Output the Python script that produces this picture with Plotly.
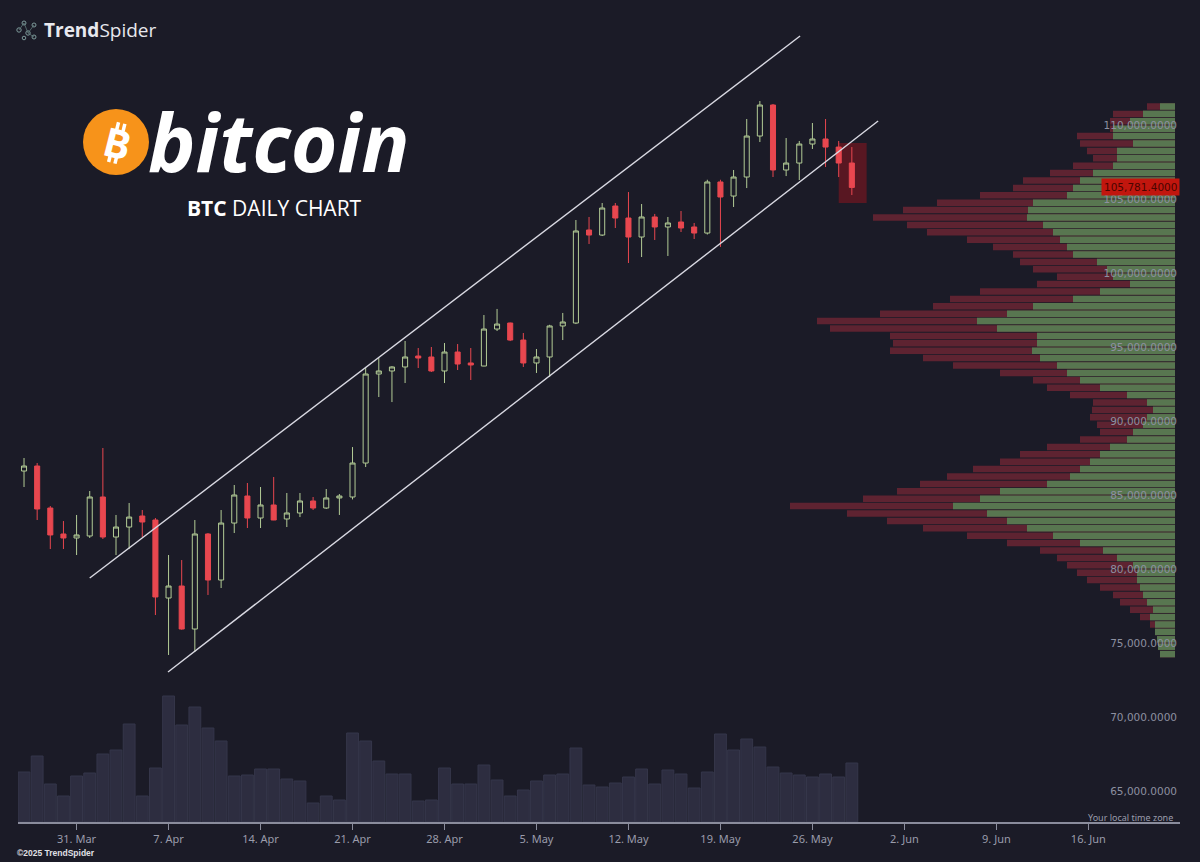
import plotly.graph_objects as go
import pandas as pd
import math

# ---------------- data ----------------
start_date = "2025-03-27"
n_days = 64
dates = pd.date_range(start_date, periods=n_days, freq="D")

opens = [86620, 86958, 84120, 82365, 82095, 82230, 84865, 82160, 82835, 83580,
         83310, 78040, 78850, 75945, 82365, 79255, 83105, 84930, 83445, 84325,
         83380, 83785, 84595, 84120, 84800, 84865, 87160, 93175, 93380, 93650,
         94390, 94325, 93380, 94660, 93920, 93715, 96215, 96620, 95470, 93920,
         94325, 96420, 96620, 102905, 102565, 104525, 103715, 102430, 103785, 103110,
         103445, 103110, 102700, 106150, 105200, 106485, 109255, 111350, 106960, 107430,
         108715, 109055, 108510, 107430]
highs = [87500, 87160, 84255, 83240, 83650, 85270, 88175, 83650, 84460, 83985,
         83445, 80945, 80605, 83310, 82430, 83985, 85675, 85810, 85540, 86215,
         85135, 85135, 84865, 85405, 85065, 88240, 93650, 94255, 93700, 95405,
         94930, 95000, 95270, 95200, 94930, 97160, 97570, 96650, 95945, 94865,
         96500, 97300, 103580, 103785, 104730, 104730, 105470, 104660, 103990, 103785,
         104190, 103380, 106300, 106300, 106960, 110405, 111620, 111420, 109120, 108920,
         110135, 110405, 108920, 108510]
lows = [85540, 83310, 81350, 81350, 80945, 82095, 82025, 80945, 81350, 82160,
        76890, 74190, 75900, 74390, 78245, 78715, 82430, 82770, 82770, 83300,
        82835, 83510, 83985, 84055, 83650, 84700, 86890, 91620, 91280, 92565,
        93580, 93310, 92565, 93445, 92770, 93700, 96080, 95400, 93650, 93245,
        92970, 95470, 96550, 101960, 102500, 103040, 100675, 101080, 102230, 101150,
        102770, 102295, 102600, 101760, 104460, 105740, 108850, 106485, 106550, 106280,
        108380, 107160, 106485, 105270]
closes = [86958, 84053, 82300, 82095, 82300, 84865, 82160, 82835, 83510, 83175,
          78110, 78850, 75945, 82365, 79255, 83105, 85000, 83445, 84325, 83310,
          83785, 84595, 84120, 84800, 84930, 87160, 93175, 93380, 93650, 94325,
          94255, 93380, 94660, 93850, 93785, 96215, 96550, 95470, 93920, 94325,
          96420, 96690, 102840, 102565, 104390, 103715, 102430, 103785, 103110, 103380,
          103040, 102700, 106150, 105135, 106485, 109255, 111350, 106960, 107430, 108715,
          109055, 108510, 107430, 105781.4]

volume_k = [50, 66, 38, 26, 46, 49, 68, 72, 98, 26,
            54, 126, 97, 115, 94, 81, 46, 47, 53, 53,
            43, 41, 19, 26, 22, 89, 81, 61, 48, 48,
            21, 22, 54, 38, 38, 57, 42, 26, 32, 41,
            47, 48, 74, 37, 35, 39, 45, 53, 38, 52,
            48, 34, 50, 88, 72, 83, 75, 55, 49, 47,
            45, 48, 45, 59]

# volume profile (bins of 500 from 74,000 to 111,500) : total and up volume
vp_levels = list(range(74250, 111500, 500))
vp_total = [15, 17, 18, 20, 25, 35, 45, 55, 62, 75,
            88, 98, 108, 118, 135, 168, 208, 252, 288, 328,
            385, 312, 278, 255, 228, 202, 175, 155, 128, 95,
            75, 78, 85, 83, 82, 105, 128, 142, 175, 222,
            252, 285, 282, 285, 345, 358, 295, 242, 225, 195,
            138, 118, 142, 155, 162, 182, 208, 248, 268, 302,
            272, 238, 195, 162, 152, 125, 102, 82, 88, 95,
            98, 65, 65, 62, 28]
vp_up = [15, 17, 18, 20, 20, 25, 22, 28, 32, 35,
         38, 38, 42, 58, 72, 95, 122, 148, 168, 188,
         222, 195, 175, 128, 105, 95, 85, 75, 65, 48,
         42, 32, 28, 22, 28, 48, 75, 95, 108, 118,
         135, 143, 138, 138, 178, 198, 168, 142, 102, 75,
         45, 62, 68, 78, 102, 108, 115, 122, 132, 148,
         147, 142, 108, 102, 95, 82, 62, 58, 58, 42,
         62, 62, 45, 32, 15]

channel_upper_x = ["2025-04-01 00:00", "2025-05-25 01:30"]
channel_upper_y = [79390, 116014]
channel_lower_x = ["2025-04-06 23:00", "2025-05-31 00:00"]
channel_lower_y = [73039, 110270]

highlight_x = ["2025-05-28 00:00", "2025-05-30 03:00"]
highlight_y = [104730, 108784]

price_ticks = [65000, 70000, 75000, 80000, 85000, 90000, 95000, 100000, 105000, 110000]
date_ticks = ["2025-03-31", "2025-04-07", "2025-04-14", "2025-04-21", "2025-04-28",
              "2025-05-05", "2025-05-12", "2025-05-19", "2025-05-26", "2025-06-02",
              "2025-06-09", "2025-06-16"]
date_tick_labels = ["31. Mar", "7. Apr", "14. Apr", "21. Apr", "28. Apr", "5. May",
                    "12. May", "19. May", "26. May", "2. Jun", "9. Jun", "16. Jun"]

last_price = closes[-1]

# ---------------- style ----------------
W, H = 1200, 862
ML, MR, MT, MB = 18, 20, 0, 40
PW, PH = W - ML - MR, H - MT - MB
BG = "#1b1b27"
UP = "#b3cc96"
DN = "#e8474f"
VOLC = "#2d2d40"
GRN = "#587650"
RED = "#5e2331"
AXC = "#8a8c9c"


def px(x):
    return (x - ML) / PW


def py(y):
    return 1 - (y - MT) / PH


fig = go.Figure()

fig.add_trace(go.Bar(
    x=dates, y=volume_k, yaxis="y2", xaxis="x",
    width=0.9 * 86400000,
    marker=dict(color=VOLC, line=dict(color="#35364a", width=1)),
    hoverinfo="skip", showlegend=False))

fig.add_trace(go.Bar(
    y=vp_levels, x=vp_total, orientation="h", xaxis="x3", yaxis="y",
    width=440, marker=dict(color=RED, line=dict(width=0)),
    hoverinfo="skip", showlegend=False))
fig.add_trace(go.Bar(
    y=vp_levels, x=vp_up, orientation="h", xaxis="x3", yaxis="y",
    width=440, marker=dict(color=GRN, line=dict(width=0)),
    hoverinfo="skip", showlegend=False))

fig.add_trace(go.Candlestick(
    x=dates, open=opens, high=highs, low=lows, close=closes,
    increasing=dict(line=dict(color=UP, width=1), fillcolor=BG),
    decreasing=dict(line=dict(color=DN, width=1), fillcolor=DN),
    whiskerwidth=0, showlegend=False))

for cx, cy in ((channel_upper_x, channel_upper_y), (channel_lower_x, channel_lower_y)):
    fig.add_trace(go.Scatter(x=cx, y=cy, mode="lines",
                             line=dict(color="#d9d9e2", width=1.4),
                             hoverinfo="skip", showlegend=False))

fig.add_shape(type="rect", xref="x", yref="y",
              x0=highlight_x[0], x1=highlight_x[1], y0=highlight_y[0], y1=highlight_y[1],
              fillcolor="rgba(150,20,30,0.5)", line=dict(width=0), layer="below")

# bitcoin logo
CX, CY = 116, 142
fig.add_shape(type="circle", xref="paper", yref="paper",
              x0=px(CX - 33), x1=px(CX + 33), y0=py(CY + 33), y1=py(CY - 33),
              fillcolor="#f7931a", line=dict(width=0))
fig.add_annotation(xref="paper", yref="paper", x=px(CX + 1), y=py(CY + 1),
                   xanchor="center", yanchor="middle",
                   text="<b>B</b>", showarrow=False, textangle=14,
                   font=dict(family="Open Sans", size=40, color="white"))
ang = math.radians(14)
for dx in (-3.5, 3.0):
    for (d0, d1) in ((-20.5, -13), (13, 20.5)):
        pts = []
        for dy in (d0, d1):
            rx = dx * math.cos(ang) - dy * math.sin(ang)
            ry = dx * math.sin(ang) + dy * math.cos(ang)
            pts.append((CX + 1 + rx, CY + 1 + ry))
        fig.add_shape(type="line", xref="paper", yref="paper",
                      x0=px(pts[0][0]), y0=py(pts[0][1]), x1=px(pts[1][0]), y1=py(pts[1][1]),
                      line=dict(color="white", width=3.5))
fig.add_annotation(xref="paper", yref="paper", x=px(146), y=py(140),
                   xanchor="left", yanchor="middle",
                   text="<b><i>bitcoin</i></b>", showarrow=False,
                   font=dict(family="Open Sans", size=80, color="white"))
fig.add_annotation(xref="paper", yref="paper", x=px(274), y=py(208),
                   xanchor="center", yanchor="middle",
                   text="<b>BTC</b> DAILY CHART", showarrow=False,
                   font=dict(family="Open Sans", size=21, color="white"))

# TrendSpider header
fig.add_annotation(xref="paper", yref="paper", x=px(42), y=py(30),
                   xanchor="left", yanchor="middle",
                   text="<b>Trend</b>Spider", showarrow=False,
                   font=dict(family="Open Sans", size=19, color="#e8e8ee"))
for (cx, cy, r) in ((19, 30, 2.2), (24, 23, 2.0), (28, 33, 2.2), (34, 25, 2.0), (24, 38, 1.8), (34, 37, 2.0)):
    fig.add_shape(type="circle", xref="paper", yref="paper",
                  x0=px(cx - r), x1=px(cx + r), y0=py(cy + r), y1=py(cy - r),
                  line=dict(color="#7d9a9a", width=1), fillcolor="rgba(0,0,0,0)")
for (a, b) in (((19, 30), (24, 23)), ((24, 23), (28, 33)), ((28, 33), (34, 25)), ((28, 33), (34, 37))):
    fig.add_shape(type="line", xref="paper", yref="paper",
                  x0=px(a[0]), y0=py(a[1]), x1=px(b[0]), y1=py(b[1]),
                  line=dict(color="#5f7a7a", width=0.8))

# last price label
fig.add_annotation(xref="paper", yref="y", x=1.0, y=last_price,
                   xanchor="right", yanchor="middle",
                   text=f"{last_price:,.4f}", showarrow=False,
                   bgcolor="#c2160e", borderpad=2,
                   font=dict(family="DejaVu Sans", size=10.5, color="#4a0500"))

fig.add_annotation(xref="paper", yref="paper", x=px(1175), y=py(817),
                   xanchor="right", yanchor="middle",
                   text="Your local time zone", showarrow=False,
                   font=dict(family="Noto Sans", size=9, color="#9a9cab"))
fig.add_annotation(xref="paper", yref="paper", x=px(15), y=py(853),
                   xanchor="left", yanchor="middle",
                   text="<b>©2025 TrendSpider</b>", showarrow=False,
                   font=dict(family="Liberation Sans", size=8.5, color="#e0e0e6"))

x_start = pd.Timestamp(start_date) - pd.Timedelta(hours=11)
x_end = x_start + pd.Timedelta(days=PW / 13.14)

fig.update_layout(
    width=W, height=H,
    margin=dict(l=ML, r=MR, t=MT, b=MB),
    paper_bgcolor=BG, plot_bgcolor=BG,
    barmode="overlay", boxgap=0.45,
    showlegend=False,
    xaxis=dict(type="date", range=[x_start, x_end], showgrid=False, zeroline=False,
               showline=True, linecolor=AXC, linewidth=2,
               ticks="outside", ticklen=6, tickcolor=AXC, tickwidth=1,
               tickvals=date_ticks, ticktext=date_tick_labels,
               tickfont=dict(family="Noto Sans", size=11, color="#9a9cab"),
               rangeslider=dict(visible=False)),
    yaxis=dict(range=[62905, 118446], side="right", ticklabelposition="inside",
               showgrid=False, zeroline=False, showline=False, ticks="",
               tickvals=price_ticks, tickformat=",.4f",
               tickfont=dict(family="DejaVu Sans", size=10.5, color="#8d90a0")),
    yaxis2=dict(overlaying="y", range=[0, PH], visible=False),
    xaxis3=dict(overlaying="x", range=[PW - 5, -5], visible=False),
)

fig.write_html("out.html",
               config={"displayModeBar": False},
               post_script="document.body.style.margin='0';document.body.style.background='%s';" % BG)
